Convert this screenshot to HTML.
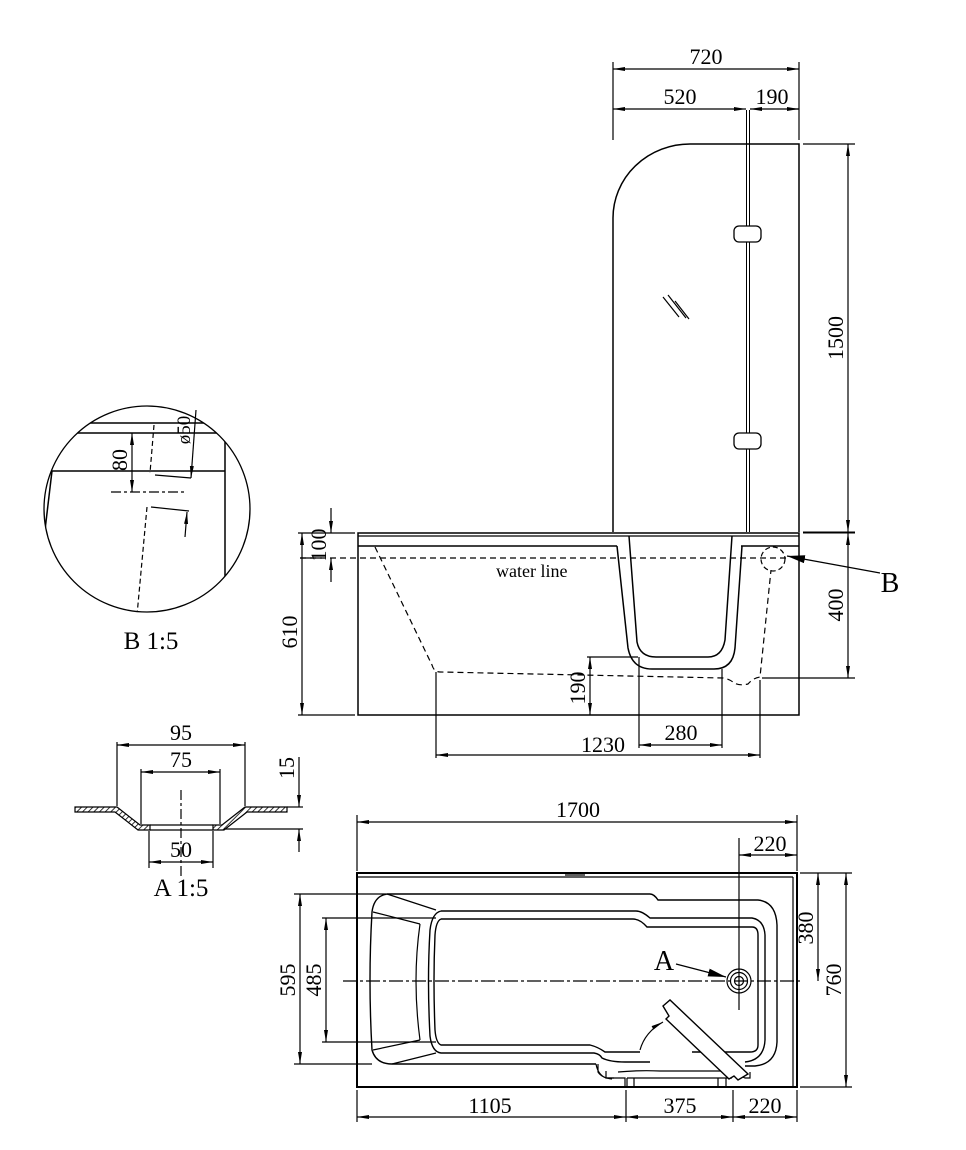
<!DOCTYPE html>
<html><head><meta charset="utf-8"><style>
html,body{margin:0;padding:0;background:#fff;}
svg{display:block}
text{font-family:"Liberation Serif",serif;fill:#000;}
</style></head><body>
<svg width="966" height="1150" viewBox="0 0 966 1150" xmlns="http://www.w3.org/2000/svg">
<defs>
<marker id="ar" viewBox="0 0 12 6" refX="12" refY="3" markerWidth="12" markerHeight="6" markerUnits="userSpaceOnUse" orient="auto-start-reverse"><path d="M0,1 L12,3 L0,5 z" fill="#000"/></marker>
<marker id="arb" viewBox="0 0 18 8" refX="18" refY="4" markerWidth="18" markerHeight="8" markerUnits="userSpaceOnUse" orient="auto"><path d="M0,0 L18,4 L0,8 z" fill="#000"/></marker>
<clipPath id="cb"><circle cx="147" cy="509" r="103"/></clipPath>
<pattern id="hat" width="4" height="4" patternUnits="userSpaceOnUse" patternTransform="rotate(45)"><line x1="0" y1="0" x2="0" y2="4" stroke="#000" stroke-width="1.6"/></pattern>
</defs>
<g fill="none" stroke="#000" stroke-width="1.2">

<!-- ===== SHOWER SCREEN ===== -->
<path d="M613,532 L613,218 A77,74 0 0 1 690,144 L799,144 L799,532" stroke-width="1.5"/>
<line x1="746.5" y1="110" x2="746.5" y2="532" stroke-width="1"/>
<line x1="749.5" y1="110" x2="749.5" y2="532" stroke-width="1"/>
<rect x="734" y="226" width="27" height="16" rx="5" fill="#fff" stroke-width="1.3"/>
<rect x="734" y="433" width="27" height="16" rx="5" fill="#fff" stroke-width="1.3"/>
<line x1="663" y1="297" x2="679" y2="317"/><line x1="668" y1="295" x2="686" y2="318"/><line x1="675" y1="301" x2="689" y2="319"/>
<!-- dims 720 / 520 / 190 -->
<line x1="613" y1="62" x2="613" y2="140"/>
<line x1="799" y1="62" x2="799" y2="140"/>
<line x1="613" y1="69" x2="799" y2="69" marker-start="url(#ar)" marker-end="url(#ar)"/>
<line x1="613" y1="109" x2="746" y2="109" marker-start="url(#ar)" marker-end="url(#ar)"/>
<line x1="750" y1="109" x2="799" y2="109" marker-start="url(#ar)"/>
<line x1="790" y1="109" x2="799" y2="109" marker-end="url(#ar)"/>
<!-- 1500 -->
<line x1="803" y1="144" x2="855" y2="144"/>
<line x1="803" y1="532" x2="855" y2="532" stroke-width="1"/>
<line x1="848" y1="144" x2="848" y2="532" marker-start="url(#ar)" marker-end="url(#ar)"/>

<!-- ===== SIDE VIEW ===== -->
<rect x="358" y="533" width="441" height="182" stroke-width="1.5"/>
<line x1="358" y1="536" x2="799" y2="536"/>
<path d="M358,546 L617,546 M741,546 L799,546" stroke-width="1.5"/>
<path d="M617,546 L628,648 Q632,669 652,669 L714,669 Q733,669 735,648 L742,546" stroke-width="1.5"/>
<path d="M629,536 L637,642 Q640,657 656,657 L708,657 Q722,657 725,640 L732,536" stroke-width="1.5"/>
<line x1="300" y1="558" x2="790" y2="558" stroke-dasharray="6,4"/>
<path d="M375,547 L432,665 Q434,672 440,672 L723,678 Q730,679 734,683 Q740,686 748,684 Q753,678 760,677 L771,570" stroke-dasharray="6,4"/>
<circle cx="773" cy="559" r="12" stroke-dasharray="5,3"/>
<line x1="880" y1="573" x2="787" y2="556" marker-end="url(#arb)"/>
<!-- 100 -->
<line x1="322" y1="533" x2="355" y2="533"/>
<line x1="322" y1="558" x2="300" y2="558"/>
<line x1="331" y1="508" x2="331" y2="533" marker-end="url(#ar)"/>
<line x1="331" y1="582" x2="331" y2="558" marker-end="url(#ar)"/>
<!-- 610 -->
<line x1="298" y1="533" x2="322" y2="533"/>
<line x1="298" y1="715" x2="355" y2="715"/>
<line x1="302" y1="533" x2="302" y2="715" marker-start="url(#ar)" marker-end="url(#ar)"/>
<!-- 400 -->
<line x1="803" y1="533" x2="855" y2="533" stroke-width="1"/>
<line x1="762" y1="678" x2="855" y2="678"/>
<line x1="848" y1="533" x2="848" y2="678" marker-start="url(#ar)" marker-end="url(#ar)"/>
<!-- 190 -->
<line x1="587" y1="657" x2="638" y2="657"/>
<line x1="590" y1="657" x2="590" y2="715" marker-start="url(#ar)" marker-end="url(#ar)"/>
<!-- 280 / 1230 -->
<line x1="639" y1="657" x2="639" y2="748"/>
<line x1="722" y1="669" x2="722" y2="748"/>
<line x1="639" y1="745" x2="722" y2="745" marker-start="url(#ar)" marker-end="url(#ar)"/>
<line x1="436" y1="672" x2="436" y2="758"/>
<line x1="760" y1="680" x2="760" y2="758"/>
<line x1="436" y1="755" x2="760" y2="755" marker-start="url(#ar)" marker-end="url(#ar)"/>

<!-- ===== DETAIL B ===== -->
<circle cx="147" cy="509" r="103" stroke-width="1.3"/>
<g clip-path="url(#cb)">
<line x1="40" y1="423" x2="260" y2="423" stroke-width="1.5"/>
<line x1="40" y1="433" x2="260" y2="433" stroke-width="1.5"/>
<line x1="52" y1="471" x2="225" y2="471" stroke-width="1.5"/>
<line x1="225" y1="433" x2="225" y2="620" stroke-width="1.5"/>
<line x1="52" y1="471" x2="45" y2="530" stroke-width="1.5"/>
<line x1="154" y1="425" x2="150" y2="473" stroke-dasharray="5,3"/>
<line x1="147" y1="507" x2="137" y2="615" stroke-dasharray="5,3"/>
</g>
<line x1="132" y1="433" x2="132" y2="492" marker-start="url(#ar)" marker-end="url(#ar)"/>
<line x1="111" y1="492" x2="185" y2="492" stroke-dasharray="10,3,3,3"/>
<line x1="155" y1="475" x2="191" y2="478"/>
<line x1="151" y1="507" x2="189" y2="511"/>
<line x1="196" y1="410" x2="191" y2="478" marker-end="url(#ar)"/>
<line x1="185" y1="537" x2="187" y2="512" marker-end="url(#ar)"/>

<!-- ===== DETAIL A ===== -->
<path d="M75,807 L117,807 L140,825 L150,825 L150,830 L138,830 L115,812 L75,812 Z" fill="url(#hat)" stroke-width="1.2"/>
<path d="M287,807 L245,807 L222,825 L213,825 L213,830 L224,830 L247,812 L287,812 Z" fill="url(#hat)" stroke-width="1.2"/>
<path d="M150,825 L213,825 M150,830 L213,830"/>
<line x1="117" y1="742" x2="117" y2="806"/><line x1="245" y1="742" x2="245" y2="806"/>
<line x1="117" y1="745" x2="245" y2="745" marker-start="url(#ar)" marker-end="url(#ar)"/>
<line x1="141" y1="769" x2="141" y2="824"/><line x1="220" y1="769" x2="220" y2="824"/>
<line x1="141" y1="772" x2="220" y2="772" marker-start="url(#ar)" marker-end="url(#ar)"/>
<line x1="149" y1="831" x2="149" y2="868"/><line x1="213" y1="831" x2="213" y2="868"/>
<line x1="149" y1="862" x2="213" y2="862" marker-start="url(#ar)" marker-end="url(#ar)"/>
<line x1="181" y1="790" x2="181" y2="876" stroke-dasharray="10,3,3,3"/>
<line x1="287" y1="807" x2="303" y2="807"/><line x1="224" y1="829" x2="303" y2="829"/>
<line x1="299" y1="757" x2="299" y2="807" marker-end="url(#ar)"/>
<line x1="299" y1="852" x2="299" y2="829" marker-end="url(#ar)"/>

<!-- ===== PLAN VIEW ===== -->
<rect x="357" y="873" width="440" height="214" stroke-width="2"/>
<line x1="357" y1="877" x2="793" y2="877"/>
<line x1="793" y1="877" x2="793" y2="1087"/>
<line x1="565" y1="875" x2="585" y2="875"/>
<path d="M387,894 L650,894 Q654,894 658,900 L758,900 Q776,902 777,925 L777,1042 Q776,1064 755,1066 L745,1066" stroke-width="1.4"/>
<path d="M387,894 Q374,896 372,912 Q368,980 372,1050 Q376,1064 392,1064 L596,1064" stroke-width="1.4"/>
<path d="M441,911 L636,911 Q642,911 650,918 L752,918 Q764,920 765,935 L765,1040 Q764,1060 745,1062" stroke-width="1.4"/>
<path d="M441,911 Q432,913 430,930 Q427,980 430,1036 Q432,1052 441,1053 L594,1053 Q600,1054 602,1058 Q610,1062 625,1062 L650,1062" stroke-width="1.4"/>
<path d="M441,919 L633,919 Q640,919 647,927 L752,927 Q758,927 758,935 L758,1045 Q758,1052 750,1052 L692,1052" stroke-width="1.4"/>
<path d="M441,919 Q436,921 435,935 Q433,980 435,1030 Q436,1043 441,1045 L590,1045 Q598,1047 605,1052 L640,1052" stroke-width="1.4"/>
<path d="M387,894 L436,910 M373,912 L420,924 M373,1050 L420,1040 M392,1064 L436,1053" stroke-width="1.2"/>
<path d="M420,924 Q412,980 420,1040" stroke-width="1.2"/>
<path d="M596,1064 Q598,1075 606,1078 L625,1078 L625,1087 M598,1064 L598,1072 Q602,1078 612,1079" />
<path d="M606,1071 L606,1078 L614,1078 M618,1072 Q640,1070 660,1071 L720,1071 Q735,1073 745,1078 L750,1078 L750,1072"/>
<path d="M627,1078 L627,1087 M634,1078 L634,1087 M718,1078 L718,1087 M726,1078 L726,1087 M627,1078 L732,1078"/>
<path d="M663,1006 L670,1000 L748,1074 L738,1080 L734,1076 L729,1079 L666,1019 L669,1016 Z" fill="#fff" stroke-width="1.4"/>
<path d="M640,1050 Q645,1032 663,1022" marker-end="url(#ar)"/>
<line x1="343" y1="981" x2="800" y2="981" stroke-dasharray="14,3,3,3"/>
<line x1="739" y1="838" x2="739" y2="1010"/>
<circle cx="739" cy="981" r="12"/><circle cx="739" cy="981" r="8.5"/><circle cx="739" cy="981" r="4.5"/>
<line x1="676" y1="964" x2="726" y2="977" marker-end="url(#arb)"/>
<line x1="357" y1="815" x2="357" y2="871"/><line x1="797" y1="815" x2="797" y2="871"/>
<line x1="357" y1="822" x2="797" y2="822" marker-start="url(#ar)" marker-end="url(#ar)"/>
<line x1="739" y1="855" x2="797" y2="855" marker-start="url(#ar)" marker-end="url(#ar)"/>
<line x1="357" y1="1090" x2="357" y2="1122"/><line x1="626" y1="1090" x2="626" y2="1122"/>
<line x1="733" y1="1090" x2="733" y2="1122"/><line x1="797" y1="1090" x2="797" y2="1122"/>
<line x1="357" y1="1117" x2="626" y2="1117" marker-start="url(#ar)" marker-end="url(#ar)"/>
<line x1="626" y1="1117" x2="733" y2="1117" marker-start="url(#ar)" marker-end="url(#ar)"/>
<line x1="733" y1="1117" x2="797" y2="1117" marker-start="url(#ar)" marker-end="url(#ar)"/>
<line x1="294" y1="894" x2="386" y2="894"/><line x1="294" y1="1064" x2="372" y2="1064"/>
<line x1="300" y1="894" x2="300" y2="1064" marker-start="url(#ar)" marker-end="url(#ar)"/>
<line x1="322" y1="918" x2="436" y2="918"/><line x1="322" y1="1042" x2="436" y2="1042"/>
<line x1="326" y1="918" x2="326" y2="1042" marker-start="url(#ar)" marker-end="url(#ar)"/>
<line x1="800" y1="873" x2="852" y2="873"/><line x1="800" y1="1087" x2="852" y2="1087"/>
<line x1="818" y1="873" x2="818" y2="981" marker-start="url(#ar)" marker-end="url(#ar)"/>
<line x1="846" y1="873" x2="846" y2="1087" marker-start="url(#ar)" marker-end="url(#ar)"/>
</g>

<!-- ===== TEXT ===== -->
<g font-size="22">
<text x="706" y="64" text-anchor="middle">720</text>
<text x="680" y="104" text-anchor="middle">520</text>
<text x="772" y="104" text-anchor="middle">190</text>
<text transform="translate(843,338) rotate(-90)" text-anchor="middle">1500</text>
<text transform="translate(326,545) rotate(-90)" text-anchor="middle">100</text>
<text transform="translate(297,632) rotate(-90)" text-anchor="middle">610</text>
<text transform="translate(843,605) rotate(-90)" text-anchor="middle">400</text>
<text transform="translate(585,688) rotate(-90)" text-anchor="middle">190</text>
<text x="681" y="740" text-anchor="middle">280</text>
<text x="603" y="752" text-anchor="middle">1230</text>
<text x="496" y="577" font-family="Liberation Mono, monospace" font-size="18">water line</text>
<text x="890" y="592" font-size="28" text-anchor="middle">B</text>
<text transform="translate(127,460) rotate(-90)" text-anchor="middle">80</text>
<text transform="translate(190,430) rotate(-90)" text-anchor="middle" font-size="19">ø50</text>
<text x="151" y="649" font-size="25" text-anchor="middle">B 1:5</text>
<text x="181" y="740" text-anchor="middle">95</text>
<text x="181" y="767" text-anchor="middle">75</text>
<text x="181" y="857" text-anchor="middle">50</text>
<text transform="translate(294,768) rotate(-90)" text-anchor="middle">15</text>
<text x="181" y="896" font-size="25" text-anchor="middle">A 1:5</text>
<text x="578" y="817" text-anchor="middle">1700</text>
<text x="770" y="851" text-anchor="middle">220</text>
<text x="664" y="970" font-size="28" text-anchor="middle">A</text>
<text x="490" y="1113" text-anchor="middle">1105</text>
<text x="680" y="1113" text-anchor="middle">375</text>
<text x="765" y="1113" text-anchor="middle">220</text>
<text transform="translate(295,980) rotate(-90)" text-anchor="middle">595</text>
<text transform="translate(321,980) rotate(-90)" text-anchor="middle">485</text>
<text transform="translate(813,928) rotate(-90)" text-anchor="middle">380</text>
<text transform="translate(841,980) rotate(-90)" text-anchor="middle">760</text>
</g>
</svg>
</body></html>
